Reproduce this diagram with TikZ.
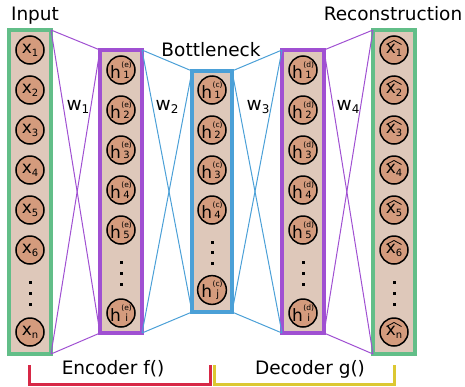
\documentclass[tikz,border=0pt]{standalone}
\usepackage{fontspec}
\setmainfont{DejaVu Sans}
\usetikzlibrary{positioning}

\definecolor{ingreen}{RGB}{98,190,136}
\definecolor{laypurple}{RGB}{160,80,210}
\definecolor{neckblue}{RGB}{75,160,215}
\definecolor{tanbg}{RGB}{222,200,186}
\definecolor{unitfill}{RGB}{212,155,125}
\definecolor{encred}{RGB}{215,40,70}
\definecolor{decyellow}{RGB}{220,200,50}

\newcommand\xlab[1]{x\raisebox{-3pt}{\fontsize{10}{10}\selectfont #1}}
\newcommand\xhat[1]{\raisebox{-2pt}{\xlab{#1}}}
\newcommand\hlab[2]{h\kern.5pt\shortstack{\fontsize{7.5}{7.5}\selectfont(#1)\\\fontsize{10}{10}\selectfont #2}}
\newcommand\wlab[1]{w\raisebox{-3pt}{\fontsize{12}{12}\selectfont #1}}

\begin{document}
\begin{tikzpicture}[x=1pt, y=-1pt, node distance=12pt,
    layer/.style={draw, line width=3.2pt, fill=tanbg, minimum width=42pt, outer sep=0pt},
    unit/.style={circle, draw=black, line width=1.5pt, fill=unitfill, minimum size=28pt, inner sep=0pt, outer sep=0pt, font=\fontsize{17}{17}\selectfont},
    dotsq/.style={fill=black, minimum size=3pt, inner sep=0pt, outer sep=0pt},
    link/.style={line width=1pt},
    hatline/.style={line width=0.8pt},
    brace/.style={line width=3pt},
    lab/.style={font=\fontsize{18.5}{20}\selectfont, anchor=base}]
    \useasboundingbox (0,0) rectangle (465,386);

    % Layers
    \node (input) at (30,192) [layer, draw=ingreen, minimum height=324pt] {};
    \node (enc) at (121,191.5) [layer, draw=laypurple, minimum height=283pt] {};
    \node (neck) at (212,191.5) [layer, draw=neckblue, minimum width=40pt, minimum height=241pt] {};
    \node (dec) at (303,191.5) [layer, draw=laypurple, minimum height=283pt] {};
    \node (output) at (394,192) [layer, draw=ingreen, minimum height=324pt] {};

    % Weights between layers
    \draw[link, laypurple] (input.north east) -- (enc.north west);
    \draw[link, laypurple] (input.north east) -- (enc.south west);
    \draw[link, laypurple] (input.south east) -- (enc.north west);
    \draw[link, laypurple] (input.south east) -- (enc.south west);
    \draw[link, neckblue] (enc.north east) -- (neck.north west);
    \draw[link, neckblue] (enc.north east) -- (neck.south west);
    \draw[link, neckblue] (enc.south east) -- (neck.north west);
    \draw[link, neckblue] (enc.south east) -- (neck.south west);
    \draw[link, neckblue] (neck.north east) -- (dec.north west);
    \draw[link, neckblue] (neck.north east) -- (dec.south west);
    \draw[link, neckblue] (neck.south east) -- (dec.north west);
    \draw[link, neckblue] (neck.south east) -- (dec.south west);
    \draw[link, laypurple] (dec.north east) -- (output.north west);
    \draw[link, laypurple] (dec.north east) -- (output.south west);
    \draw[link, laypurple] (dec.south east) -- (output.north west);
    \draw[link, laypurple] (dec.south east) -- (output.south west);

    % Input units
    \node (x1) at (30,50) [unit] {\xlab{1}};
    \node (x2) [unit, below=of x1] {\xlab{2}};
    \node (x3) [unit, below=of x2] {\xlab{3}};
    \node (x4) [unit, below=of x3] {\xlab{4}};
    \node (x5) [unit, below=of x4] {\xlab{5}};
    \node (x6) [unit, below=of x5] {\xlab{6}};
    \node (xd1) at (30,282) [dotsq] {};
    \node (xd2) [dotsq, below=8pt of xd1] {};
    \node (xd3) [dotsq, below=8pt of xd2] {};
    \node (xn) at (30,332) [unit] {\xlab{n}};

    % Encoder units
    \node (he1) at (121,70) [unit] {\hlab{e}{1}};
    \node (he2) [unit, below=of he1] {\hlab{e}{2}};
    \node (he3) [unit, below=of he2] {\hlab{e}{3}};
    \node (he4) [unit, below=of he3] {\hlab{e}{4}};
    \node (he5) [unit, below=of he4] {\hlab{e}{5}};
    \node (hed1) at (121,262) [dotsq] {};
    \node (hed2) [dotsq, below=8pt of hed1] {};
    \node (hed3) [dotsq, below=8pt of hed2] {};
    \node (hei) at (121,313) [unit] {\hlab{e}{i}};

    % Bottleneck units
    \node (hc1) at (212,90) [unit] {\hlab{c}{1}};
    \node (hc2) [unit, below=of hc1] {\hlab{c}{2}};
    \node (hc3) [unit, below=of hc2] {\hlab{c}{3}};
    \node (hc4) [unit, below=of hc3] {\hlab{c}{4}};
    \node (hcd1) at (212,242) [dotsq] {};
    \node (hcd2) [dotsq, below=7.5pt of hcd1] {};
    \node (hcd3) [dotsq, below=7.5pt of hcd2] {};
    \node (hcj) at (212,290) [unit] {\hlab{c}{j}};

    % Decoder units
    \node (hd1) at (303,70) [unit] {\hlab{d}{1}};
    \node (hd2) [unit, below=of hd1] {\hlab{d}{2}};
    \node (hd3) [unit, below=of hd2] {\hlab{d}{3}};
    \node (hd4) [unit, below=of hd3] {\hlab{d}{4}};
    \node (hd5) [unit, below=of hd4] {\hlab{d}{5}};
    \node (hdd1) at (303,262) [dotsq] {};
    \node (hdd2) [dotsq, below=8pt of hdd1] {};
    \node (hdd3) [dotsq, below=8pt of hdd2] {};
    \node (hdi) at (303,313) [unit] {\hlab{d}{i}};

    % Output units
    \node (y1) at (394,50) [unit] {\xhat{1}};
    \node (y2) [unit, below=of y1] {\xhat{2}};
    \node (y3) [unit, below=of y2] {\xhat{3}};
    \node (y4) [unit, below=of y3] {\xhat{4}};
    \node (y5) [unit, below=of y4] {\xhat{5}};
    \node (y6) [unit, below=of y5] {\xhat{6}};
    \node (yd1) at (394,282) [dotsq] {};
    \node (yd2) [dotsq, below=8pt of yd1] {};
    \node (yd3) [dotsq, below=8pt of yd2] {};
    \node (yn) at (394,332) [unit] {\xhat{n}};
    % hats over the reconstructed units
    \foreach \u in {y1,y2,y3,y4,y5,y6,yn}
        \draw[hatline] (\u.center) ++(-7.5,-5.5) -- ++(7.5,-4) -- ++(7.5,4);

    % Labels
    \node (inlab) [lab] at (35,20) {Input};
    \node (reclab) [lab] at (393,20) {Reconstruction};
    \node (necklab) [lab] at (211,56) {Bottleneck};
    \node (w1) [lab] at (78,110) {\wlab{1}};
    \node (w2) [lab] at (167,110) {\wlab{2}};
    \node (w3) [lab] at (258,110) {\wlab{3}};
    \node (w4) [lab] at (348,110) {\wlab{4}};

    % Encoder / decoder brackets
    \coordinate (encL) at (29,365);
    \coordinate (encR) at (210.5,365);
    \coordinate (decL) at (214.5,365);
    \coordinate (decR) at (394,365);
    \draw[brace, encred] (encL) -- ++(0,19) -| (encR);
    \draw[brace, decyellow] (decL) -- ++(0,19) -| (decR);
    \node (enclab) [lab] at (113,374) {Encoder f()};
    \node (declab) [lab] at (310,374) {Decoder g()};
\end{tikzpicture}
\end{document}
